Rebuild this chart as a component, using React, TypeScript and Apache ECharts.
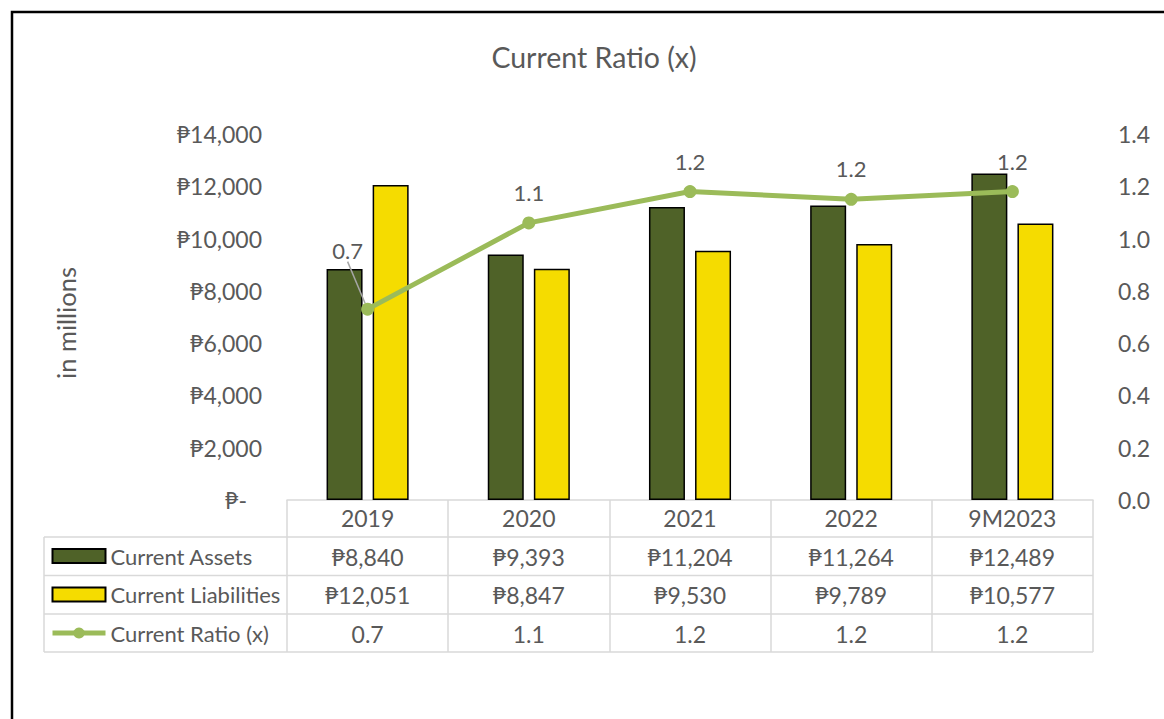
import React, { useEffect, useRef } from 'react';
import * as echarts from 'echarts';

const categories = ['2019', '2020', '2021', '2022', '9M2023'];
const currentAssets = [8840, 9393, 11204, 11264, 12489];
const currentLiabilities = [12051, 8847, 9530, 9789, 10577];
const currentRatio = [0.73, 1.06, 1.18, 1.15, 1.18];
const ratioLabels = ['0.7', '1.1', '1.2', '1.2', '1.2'];

const FONT = 'Lato, "Noto Sans", "DejaVu Sans", sans-serif';
const TXT = '#595959';
const DARK = '#4F6228';
const YELLOW = '#F5DC00';
const LINE = '#9BBB59';
const TABLE = '#D9D9D9';

const peso = (v: number) => '\u20B1' + v.toLocaleString('en-US');

export default function App() {
  const ref = useRef<HTMLDivElement>(null);
  useEffect(() => {
    const chart = echarts.init(ref.current!, null, { renderer: 'svg' });
    const W = 1164;
    const H = 719;
    const gridLeft = 287;
    const gridRight = 1093;
    const gridTop = 134;
    const gridBottom = 500;
    const tableLeft = 44;
    const rowLines = [537, 575.5, 614, 652];
    const tableBottom = rowLines[rowLines.length - 1];

    const graphic: any[] = [
      {
        type: 'rect',
        silent: true,
        shape: { x: 12, y: 12, width: 1200, height: 800 },
        style: { fill: 'none', stroke: '#000', lineWidth: 2.5 },
      },
      {
        type: 'line',
        silent: true,
        shape: { x1: tableLeft, y1: rowLines[0], x2: tableLeft, y2: tableBottom },
        style: { stroke: TABLE, lineWidth: 1.5 },
      },
      ...rowLines.map((y) => ({
        type: 'line',
        silent: true,
        shape: { x1: tableLeft, y1: y, x2: gridRight, y2: y },
        style: { stroke: TABLE, lineWidth: 1.5 },
      })),
    ];

    const labelBase = {
      color: TXT,
      fontSize: 23,
      fontFamily: FONT,
      lineHeight: 24,
      margin: 6,
      interval: 0,
    };
    const rowAxis = (data: string[], offset: number) => ({
      type: 'category',
      gridIndex: 0,
      position: 'bottom',
      offset,
      data,
      axisLine: { show: false },
      axisTick: { show: false },
      axisLabel: { ...labelBase },
    });

    const option: any = {
      animation: false,
      backgroundColor: '#fff',
      textStyle: { fontFamily: FONT },
      title: {
        text: 'Current Ratio (x)',
        left: 589,
        top: 37,
        textAlign: 'center',
        textStyle: { fontSize: 28.5, color: TXT, fontWeight: 'normal', fontFamily: FONT },
      },
      legend: {
        orient: 'vertical',
        left: 50,
        top: 544,
        padding: 0,
        itemWidth: 53,
        itemHeight: 14,
        itemGap: 14.5,
        selectedMode: false,
        lineStyle: { width: 5 },
        textStyle: { color: TXT, fontSize: 22, fontFamily: FONT, lineHeight: 24 },
        data: [
          { name: 'Current Assets', icon: 'rect' },
          { name: 'Current Liabilities', icon: 'rect' },
          { name: 'Current Ratio (x)', lineStyle: { width: 5, color: LINE } },
        ],
      },
      grid: {
        left: gridLeft,
        right: W - gridRight,
        top: gridTop,
        bottom: H - gridBottom,
        containLabel: false,
        outerBoundsMode: 'none',
      },
      graphic,
      xAxis: [
        {
          type: 'category',
          gridIndex: 0,
          position: 'bottom',
          data: categories,
          axisLine: { show: true, lineStyle: { color: TABLE, width: 1.5 } },
          axisTick: {
            show: true,
            interval: 0,
            length: tableBottom - gridBottom,
            lineStyle: { color: TABLE, width: 1.5 },
          },
          axisLabel: { ...labelBase },
        },
        rowAxis(currentAssets.map(peso), 38.5),
        rowAxis(currentLiabilities.map(peso), 77),
        rowAxis(ratioLabels, 115.5),
      ],
      yAxis: [
        {
          type: 'value',
          position: 'left',
          min: 0,
          max: 14000,
          interval: 2000,
          splitLine: { show: false },
          axisLine: { show: false },
          axisTick: { show: false },
          axisLabel: {
            margin: 25,
            color: TXT,
            fontSize: 23,
            fontFamily: FONT,
            formatter: (v: number) => (v === 0 ? '{z|\u20B1-}' : peso(v)),
            rich: { z: { padding: [0, 15, 0, 0], fontSize: 23, color: TXT, fontFamily: FONT } },
          },
          name: 'in millions',
          nameLocation: 'middle',
          nameGap: 208,
          nameRotate: 90,
          nameTextStyle: { color: TXT, fontSize: 25.5, fontFamily: FONT, padding: [0, 12, 0, 0] },
        },
        {
          type: 'value',
          position: 'right',
          min: 0,
          max: 1.4,
          interval: 0.2,
          splitLine: { show: false },
          axisLine: { show: false },
          axisTick: { show: false },
          axisLabel: {
            margin: 25,
            color: TXT,
            fontSize: 23,
            fontFamily: FONT,
            formatter: (v: number) => v.toFixed(1),
          },
        },
      ],
      series: [
        {
          name: 'Current Assets',
          type: 'bar',
          xAxisIndex: 0,
          yAxisIndex: 0,
          data: currentAssets,
          barWidth: 36,
          barGap: '28%',
          itemStyle: { color: DARK, borderColor: '#000', borderWidth: 1.5 },
        },
        {
          name: 'Current Liabilities',
          type: 'bar',
          xAxisIndex: 0,
          yAxisIndex: 0,
          data: currentLiabilities,
          barWidth: 36,
          barGap: '28%',
          itemStyle: { color: YELLOW, borderColor: '#000', borderWidth: 1.5 },
        },
        {
          name: 'Current Ratio (x)',
          type: 'line',
          xAxisIndex: 0,
          yAxisIndex: 1,
          data: currentRatio.map((v, i) =>
            i === 0 ? { value: v, labelLine: { show: true } } : { value: v }
          ),
          symbol: 'circle',
          symbolSize: 13,
          lineStyle: { color: LINE, width: 5 },
          itemStyle: { color: LINE },
          label: {
            show: true,
            position: 'top',
            distance: 13,
            color: TXT,
            fontSize: 22,
            fontFamily: FONT,
            formatter: (p: any) => ratioLabels[p.dataIndex],
          },
          labelLine: { show: false, lineStyle: { color: '#A6A6A6', width: 1.5 } },
          labelLayout: (p: any) => (p.dataIndex === 0 ? { dx: -20, dy: -28 } : {}),
        },
      ],
    };
    chart.setOption(option);
    return () => chart.dispose();
  }, []);
  return (
    <div
      ref={ref}
      style={{ position: 'fixed', left: 0, top: 0, width: 1164, height: 719, background: '#fff' }}
    />
  );
}
